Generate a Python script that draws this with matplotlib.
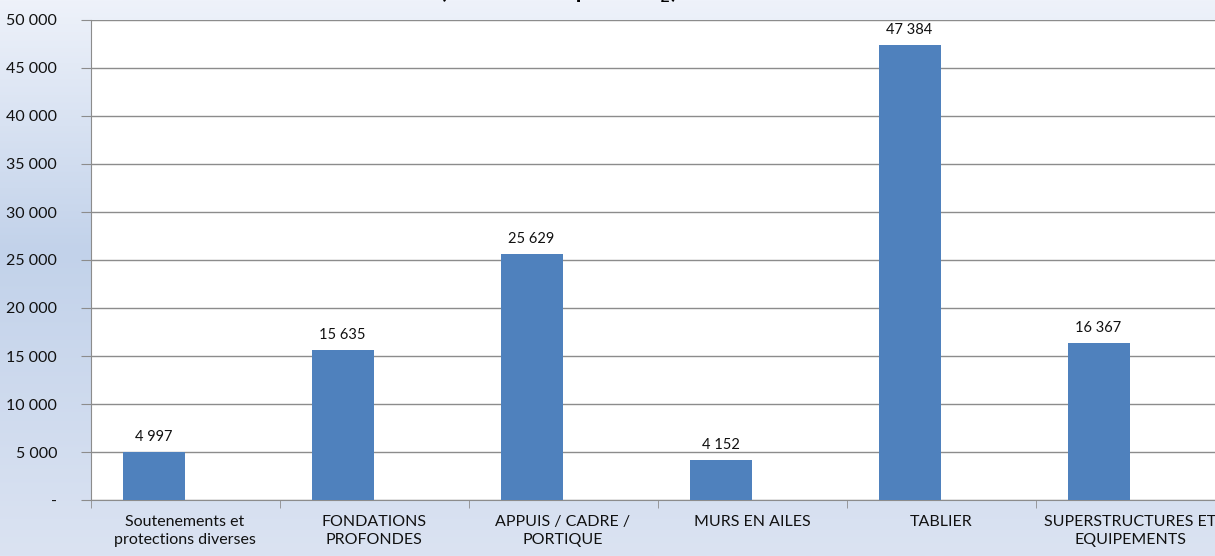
import numpy as np
import matplotlib.pyplot as plt
from matplotlib.colors import LinearSegmentedColormap

categories = ["Soutenements et\nprotections diverses", "FONDATIONS\nPROFONDES",
              "APPUIS / CADRE /\nPORTIQUE", "MURS EN AILES", "TABLIER",
              "SUPERSTRUCTURES ET\nEQUIPEMENTS"]
values = [4997, 15635, 25629, 4152, 47384, 16367]
yticks = [0, 5000, 10000, 15000, 20000, 25000, 30000, 35000, 40000, 45000, 50000]
title = "(en tonnes équiv. CO$_2$)"

plt.rcParams['font.family'] = ['Lato', 'DejaVu Sans']

W, H = 1215, 556
fig = plt.figure(figsize=(W / 100, H / 100), dpi=100)

# background gradient (light top, bluer middle, light bottom)
bg = fig.add_axes([0, 0, 1, 1], zorder=-10)
cmap = LinearSegmentedColormap.from_list("bg", [(0.0, "#eef2fa"), (0.45, "#c2d2ea"), (1.0, "#dbe3f2")])
bg.imshow(np.linspace(0, 1, 256).reshape(-1, 1), aspect="auto", cmap=cmap, extent=[0, 1, 0, 1])
bg.axis("off")

# plot area (extends past the right edge, as in the cropped original)
left, right, top, bottom = 90.5, 90.5 + 6 * 189, 20, 500
ax = fig.add_axes([left / W, 1 - bottom / H, (right - left) / W, (bottom - top) / H])
ax.set_facecolor("white")

x = np.arange(len(categories))
bw = 62 / 189
pos = x - 0.5 + 32 / 189 + bw / 2
ax.bar(pos, values, width=bw, color="#4f81bd", zorder=3)

for p, v in zip(pos, values):
    ax.annotate(f"{v:,}".replace(",", " "), (p, v), xytext=(0, 6), textcoords="offset points",
                ha="center", va="bottom", fontsize=10.5, color="#111111")

ax.set_xlim(-0.5, len(categories) - 0.5)
ax.set_ylim(0, 50000)
ax.set_yticks(yticks)
ax.set_yticklabels(["-"] + [f"{t:,}".replace(",", " ") for t in yticks[1:]], fontsize=11.5, color="#111111")
ax.yaxis.grid(True, color="#8c8c8c", linewidth=1, zorder=0)
ax.tick_params(axis="y", length=7, color="#8c8c8c", pad=17)

ax.set_xticks(x)
ax.set_xticklabels(categories, fontsize=11.5, color="#111111", linespacing=1.35)
ax.set_xticks(np.arange(-0.5, len(categories)), minor=True)
ax.tick_params(axis="x", which="major", length=0, pad=11)
ax.tick_params(axis="x", which="minor", length=6, color="#8c8c8c")

for s in ["top", "right"]:
    ax.spines[s].set_visible(False)
for s in ["left", "bottom"]:
    ax.spines[s].set_color("#8c8c8c")

# title mostly cut off by the top edge
fig.text(558 / W, 1 + 1.5 / H, title, ha="center", va="baseline", fontsize=17, fontweight="bold")

fig.savefig("out.png", dpi=100)
